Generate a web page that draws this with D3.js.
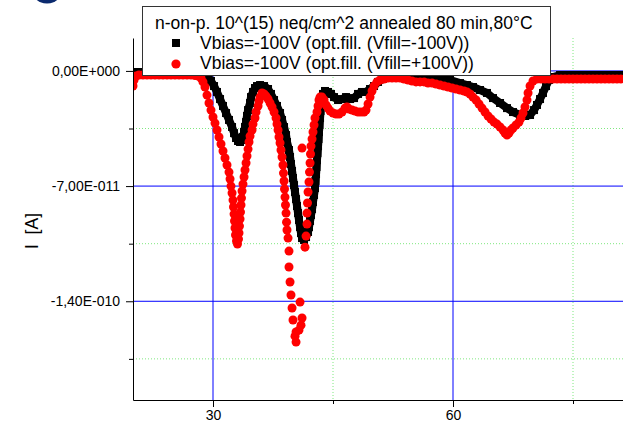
<!DOCTYPE html>
<html>
<head>
<meta charset="utf-8">
<script src="https://cdn.jsdelivr.net/npm/d3@7"></script>
<style>
  body { margin: 0; background: #fff; }
  svg { display: block; }
  text { font-family: "Liberation Sans", Arial, sans-serif; }
</style>
</head>
<body>
<div id="chart"></div>
<script>
// x = position (units of the x axis), y = current in units of 1e-11 A
var seriesNeg = [ // Vfill = -100V (black squares)
  [20.00,-0.07],[20.88,-0.07],[22.13,-0.07],[23.38,-0.07],[24.63,-0.07],[25.88,-0.07],[27.13,-0.13],[28.38,-0.13],
  [29.00,-0.25],[29.38,-0.37],[29.75,-0.61],[30.13,-0.92],[30.50,-1.28],[30.88,-1.71],[31.25,-2.13],[31.63,-2.56],
  [32.00,-2.98],[32.38,-3.41],[32.63,-3.78],[32.88,-4.08],[33.13,-4.26],[33.38,-4.32],[33.63,-4.20],[33.75,-4.02],
  [33.88,-3.71],[34.00,-3.41],[34.13,-3.11],[34.25,-2.74],[34.38,-2.38],[34.63,-1.95],[34.75,-1.59],[35.00,-1.28],
  [35.25,-1.04],[35.50,-0.92],[35.88,-0.86],[36.38,-0.92],[36.88,-1.10],[37.25,-1.40],[37.63,-1.77],[38.00,-2.13],
  [38.38,-2.56],[38.63,-2.98],[38.88,-3.41],[39.13,-3.90],[39.25,-4.32],[39.50,-4.81],[39.63,-5.23],[39.75,-5.66],
  [39.88,-6.08],[40.00,-6.51],[40.13,-6.94],[40.25,-7.36],[40.38,-7.79],[40.50,-8.21],[40.63,-8.64],[40.75,-9.06],
  [40.88,-9.49],[41.00,-9.85],[41.13,-10.16],[41.38,-10.28],[41.63,-10.10],[41.88,-9.79],[42.00,-9.49],[42.13,-9.12],
  [42.25,-8.76],[42.38,-8.40],[42.50,-7.97],[42.63,-7.54],[42.75,-7.12],[42.81,-6.69],[42.88,-6.27],[42.94,-5.84],
  [43.00,-5.42],[43.06,-5.00],[43.13,-4.57],[43.19,-4.14],[43.25,-3.71],[43.31,-3.29],[43.38,-2.86],[43.44,-2.44],
  [43.50,-2.07],[43.63,-1.71],[43.75,-1.40],[44.00,-1.22],[44.38,-1.28],[44.75,-1.40],[45.13,-1.59],[45.63,-1.77],
  [46.13,-1.71],[46.63,-1.59],[47.13,-1.71],[47.63,-1.65],[48.13,-1.40],[48.63,-1.28],[49.13,-1.28],[49.63,-1.10],
  [50.13,-0.92],[50.63,-0.67],[51.25,-0.49],[52.13,-0.37],[53.38,-0.31],[54.63,-0.31],[55.88,-0.37],[57.13,-0.43],
  [58.38,-0.49],[59.63,-0.55],[60.88,-0.74],[61.75,-0.86],[62.50,-0.98],[63.38,-1.16],[64.25,-1.34],[65.00,-1.65],
  [65.88,-1.95],[66.75,-2.26],[67.50,-2.50],[68.38,-2.68],[69.00,-2.74],[69.63,-2.68],[70.13,-2.38],[70.50,-2.07],
  [70.88,-1.71],[71.25,-1.34],[71.63,-0.92],[72.00,-0.55],[72.50,-0.37],[73.38,-0.25],[74.63,-0.25],[75.88,-0.25],
  [77.13,-0.25],[78.38,-0.25],[79.63,-0.25],[80.88,-0.25],[81.88,-0.25]
];

var seriesPos = [ // Vfill = +100V (red circles)
  [20.00,-0.92],[20.13,-0.55],[20.38,-0.31],[20.75,-0.25],[21.25,-0.25],[21.75,-0.25],[22.25,-0.25],[22.75,-0.25],
  [23.25,-0.25],[23.75,-0.25],[24.25,-0.25],[24.75,-0.25],[25.25,-0.25],[25.75,-0.25],[26.25,-0.25],[26.75,-0.25],
  [27.25,-0.25],[27.75,-0.28],[28.13,-0.31],[28.50,-0.43],[28.75,-0.67],[29.00,-0.98],[29.25,-1.47],[29.50,-1.95],
  [29.75,-2.38],[30.00,-2.80],[30.25,-3.17],[30.50,-3.59],[30.75,-4.02],[31.00,-4.44],[31.25,-4.87],[31.50,-5.29],
  [31.75,-5.72],[32.00,-6.15],[32.13,-6.57],[32.25,-7.00],[32.38,-7.42],[32.50,-7.85],[32.56,-8.27],[32.63,-8.70],
  [32.69,-9.12],[32.75,-9.55],[32.81,-9.97],[32.94,-10.34],[33.06,-10.52],[33.19,-10.22],[33.25,-9.85],[33.31,-9.43],
  [33.38,-9.00],[33.44,-8.58],[33.50,-8.15],[33.56,-7.73],[33.63,-7.30],[33.75,-6.88],[33.88,-6.45],[34.00,-6.02],
  [34.13,-5.60],[34.25,-5.17],[34.38,-4.75],[34.50,-4.32],[34.63,-3.96],[34.88,-3.59],[35.00,-3.23],[35.25,-2.86],
  [35.38,-2.50],[35.63,-2.13],[35.75,-1.83],[35.88,-1.59],[36.13,-1.34],[36.38,-1.40],[36.63,-1.53],[36.88,-1.71],
  [37.13,-1.95],[37.38,-2.19],[37.63,-2.50],[37.88,-2.86],[38.00,-3.23],[38.13,-3.59],[38.25,-4.02],[38.38,-4.38],
  [38.50,-4.81],[38.63,-5.23],[38.75,-5.72],[38.81,-6.21],[38.88,-6.69],[38.94,-7.18],[39.00,-7.67],[39.06,-8.15],
  [39.13,-8.64],[39.19,-9.19],[39.25,-9.67],[39.38,-10.16],[39.50,-10.95],[39.50,-11.92],[39.63,-12.83],[39.75,-13.62],
  [39.88,-14.41],[40.00,-15.14],[40.38,-15.87],[40.38,-16.48],[40.25,-16.12],[40.88,-14.05],[41.13,-15.02],[40.75,-15.75],
  [41.00,-15.45],[41.13,-4.69],[41.50,-10.71],[41.63,-10.04],[41.75,-9.31],[41.75,-8.64],[41.81,-8.03],[41.88,-7.36],
  [42.00,-6.75],[42.06,-6.15],[42.13,-5.60],[42.19,-5.05],[42.25,-4.57],[42.38,-4.14],[42.50,-3.71],[42.63,-3.29],
  [42.75,-2.86],[43.00,-2.50],[43.13,-2.13],[43.25,-1.77],[43.38,-1.59],[43.63,-1.59],[43.88,-1.77],[44.13,-2.07],
  [44.38,-2.26],[44.63,-2.44],[45.00,-2.56],[45.38,-2.62],[45.75,-2.62],[46.13,-2.50],[46.50,-2.26],[46.75,-2.19],
  [47.00,-2.32],[47.38,-2.38],[47.75,-2.44],[48.13,-2.50],[48.50,-2.50],[48.88,-2.50],[49.13,-2.38],[49.38,-2.01],
  [49.63,-1.59],[49.88,-1.22],[50.13,-0.92],[50.50,-0.67],[50.88,-0.55],[51.38,-0.49],[51.88,-0.43],[52.38,-0.43],
  [52.88,-0.43],[53.38,-0.43],[53.88,-0.49],[54.38,-0.55],[54.88,-0.61],[55.38,-0.67],[55.88,-0.67],[56.38,-0.67],
  [56.88,-0.74],[57.38,-0.74],[57.88,-0.80],[58.38,-0.86],[58.88,-0.92],[59.38,-0.98],[59.88,-1.04],[60.38,-1.10],
  [60.88,-1.16],[61.38,-1.22],[61.75,-1.28],[62.13,-1.40],[62.50,-1.59],[62.88,-1.77],[63.25,-2.01],[63.63,-2.26],
  [64.00,-2.50],[64.38,-2.74],[64.75,-2.92],[65.13,-3.11],[65.50,-3.23],[65.88,-3.41],[66.25,-3.59],[66.50,-3.78],
  [66.75,-3.90],[67.00,-3.78],[67.25,-3.59],[67.50,-3.47],[67.88,-3.29],[68.25,-3.11],[68.50,-2.86],[68.75,-2.56],
  [69.00,-2.19],[69.25,-1.77],[69.38,-1.34],[69.63,-0.92],[70.00,-0.61],[70.50,-0.49],[71.00,-0.49],[71.50,-0.49],
  [72.00,-0.49],[72.50,-0.49],[73.00,-0.49],[73.50,-0.49],[74.00,-0.49],[74.50,-0.49],[75.00,-0.49],[75.50,-0.49],
  [76.00,-0.49],[76.50,-0.49],[77.00,-0.49],[77.50,-0.49],[78.00,-0.49],[78.50,-0.49],[79.00,-0.49],[79.50,-0.49],
  [80.00,-0.49],[80.50,-0.49],[81.00,-0.49],[81.50,-0.49]
];

var xTicks = [30, 60], xTickLabels = ["30", "60"], xMinor = [45, 75];
var yTicks = [0, -7, -14], yTickLabels = ["0,00E+000", "-7,00E-011", "-1,40E-010"], yMinor = [-3.5, -10.5, -17.5];
var legendTitle = "n-on-p. 10^(15) neq/cm^2 annealed 80 min,80°C";
var legendNames = ["Vbias=-100V (opt.fill. (Vfill=-100V))", "Vbias=-100V (opt.fill. (Vfill=+100V))"];

var W = 623, H = 424;
var svg = d3.select("#chart").append("svg").attr("width", W).attr("height", H);

// bit of a logo poking in at the top left
svg.append("ellipse").attr("cx", 47).attr("cy", -14).attr("rx", 17).attr("ry", 17.5).attr("fill", "#0b2a6e");

var x = d3.scaleLinear().domain([20, 81.25]).range([133, 623]);
var y = d3.scaleLinear().domain([-20, 2]).range([400, 38]);

// grid
var grid = svg.append("g");
grid.selectAll(".gmh").data(yMinor).enter().append("line")
  .attr("x1", 133).attr("x2", W).attr("y1", d => y(d)).attr("y2", d => y(d))
  .attr("stroke", "#7fe87f").attr("stroke-dasharray", "1,2");
grid.selectAll(".gmv").data(xMinor).enter().append("line")
  .attr("y1", 38).attr("y2", 400).attr("x1", d => x(d)).attr("x2", d => x(d))
  .attr("stroke", "#7fe87f").attr("stroke-dasharray", "1,2");
grid.selectAll(".gh").data(yTicks).enter().append("line")
  .attr("x1", 133).attr("x2", W).attr("y1", d => y(d)).attr("y2", d => y(d))
  .attr("stroke", "#0000ff");
grid.selectAll(".gv").data(xTicks).enter().append("line")
  .attr("y1", 38).attr("y2", 400).attr("x1", d => x(d)).attr("x2", d => x(d))
  .attr("stroke", "#0000ff");

// data
svg.append("clipPath").attr("id", "clip").append("rect")
  .attr("x", 133).attr("y", 30).attr("width", W - 133).attr("height", 370);
var plot = svg.append("g").attr("clip-path", "url(#clip)");

var line = d3.line().x(d => x(d[0])).y(d => y(d[1]));
plot.append("path").datum(seriesNeg).attr("d", line)
  .attr("fill", "none").attr("stroke", "#000").attr("stroke-width", 8).attr("stroke-linejoin", "round");
plot.selectAll(".sq").data(seriesNeg).enter().append("rect")
  .attr("x", d => x(d[0]) - 4).attr("y", d => y(d[1]) - 4)
  .attr("width", 8).attr("height", 8).attr("fill", "#000");
plot.selectAll(".ci").data(seriesPos).enter().append("circle")
  .attr("cx", d => x(d[0])).attr("cy", d => y(d[1])).attr("r", 4.5).attr("fill", "#ff0000");

// axes
svg.append("g").attr("transform", "translate(0,400)")
  .call(d3.axisBottom(x).tickValues(xTicks).tickFormat((d, i) => xTickLabels[i])
    .tickSize(7).tickSizeOuter(0).tickPadding(3));
svg.append("g").attr("transform", "translate(0,400)")
  .call(d3.axisBottom(x).tickValues(xMinor).tickFormat("").tickSize(4).tickSizeOuter(0))
  .select(".domain").remove();
svg.append("g").attr("transform", "translate(133,0)")
  .call(d3.axisLeft(y).tickValues(yTicks).tickFormat((d, i) => yTickLabels[i])
    .tickSize(7).tickSizeOuter(0).tickPadding(6));
svg.append("g").attr("transform", "translate(133,0)")
  .call(d3.axisLeft(y).tickValues(yMinor).tickFormat("").tickSize(4).tickSizeOuter(0))
  .select(".domain").remove();
svg.selectAll(".tick text").attr("font-size", 14).attr("fill", "#000")
  .style("font-family", "'Liberation Sans', Arial, sans-serif");
svg.selectAll(".domain, .tick line").attr("stroke", "#000");

svg.append("text").attr("transform", "translate(37.5,231) rotate(-90)")
  .attr("text-anchor", "middle").attr("font-size", 17.5).text("I\u00a0\u00a0[A]");

// legend
var lg = svg.append("g");
lg.append("rect").attr("x", 142.5).attr("y", 6.5).attr("width", 408).attr("height", 69)
  .attr("fill", "#fff").attr("stroke", "#333");
lg.append("text").attr("x", 155).attr("y", 29).attr("font-size", 17.5).text(legendTitle);
lg.append("rect").attr("x", 172).attr("y", 39).attr("width", 8).attr("height", 8).attr("fill", "#000");
lg.append("circle").attr("cx", 176).attr("cy", 64).attr("r", 4.6).attr("fill", "#ff0000");
lg.selectAll(".ln").data(legendNames).enter().append("text")
  .attr("x", 200).attr("y", (d, i) => 49 + i * 20).attr("font-size", 17.5).text(d => d);
</script>
</body>
</html>
